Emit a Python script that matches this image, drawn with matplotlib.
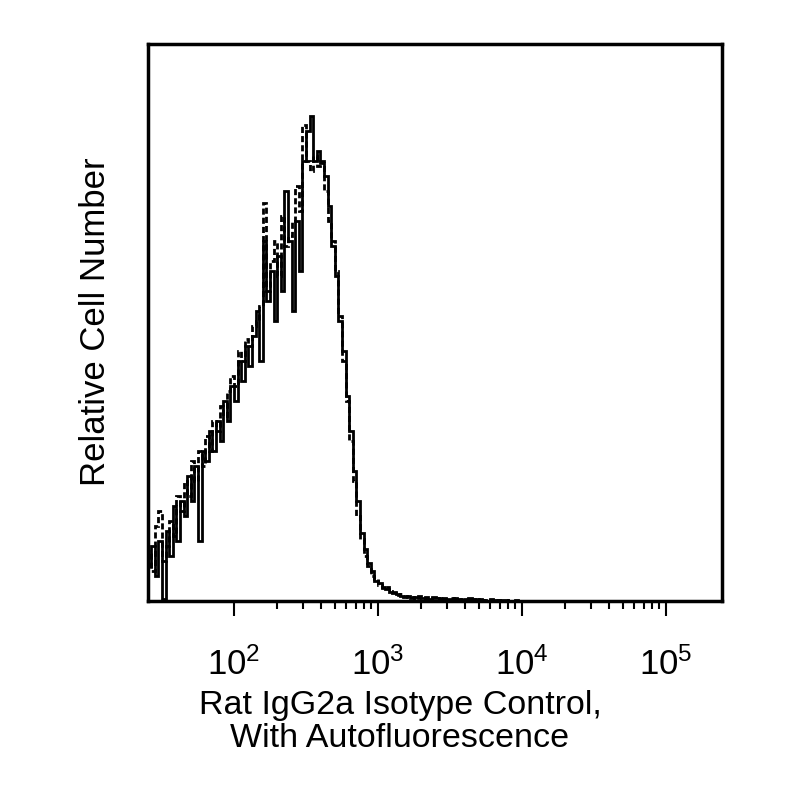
import numpy as np
import matplotlib
matplotlib.use("Agg")
import matplotlib.pyplot as plt
from matplotlib.ticker import FixedLocator, NullFormatter

plt.rcParams['font.family'] = ['Liberation Sans', 'DejaVu Sans']
plt.rcParams['mathtext.fontset'] = 'custom'
plt.rcParams['mathtext.rm'] = 'Liberation Sans'

# log10 bin edges of the histogram
log_start = 1.40
log_step = 0.025

solid_counts = [35, 55, 25, 60, 2, 70, 45, 95, 60, 100,
                85, 125, 100, 135, 60, 150, 140, 170, 150, 180,
                160, 200, 180, 215, 200, 240, 220, 255, 235, 265,
                290, 240, 360, 300, 330, 280, 345, 310, 410, 360,
                290, 380, 330, 440, 470, 485, 440, 450, 438, 425,
                395, 355, 325, 280, 250, 205, 170, 130, 100, 68,
                52, 38, 30, 20, 18, 14, 12, 9, 8, 7,
                5, 4, 5, 3, 4, 3, 3, 4, 2, 3,
                3, 2, 3, 2, 2, 3, 2, 1, 2, 3,
                2, 1, 2, 1, 0, 2, 1, 0, 1, 1,
                0, 0, 1, 0]

dashed_counts = [50, 30, 75, 90, 40, 55, 80, 65, 105, 90,
                 120, 105, 140, 120, 150, 135, 165, 150, 180, 170,
                 195, 185, 210, 225, 215, 250, 240, 262, 255, 275,
                 280, 295, 398, 310, 340, 360, 325, 385, 355, 365,
                 380, 415, 390, 476, 440, 430, 445, 435, 440, 410,
                 380, 360, 330, 285, 240, 200, 160, 120, 85, 62,
                 45, 35, 25, 22, 16, 13, 14, 10, 9, 6,
                 7, 5, 4, 4, 3, 5, 3, 2, 3, 4,
                 2, 3, 2, 1, 3, 2, 2, 1, 2, 1,
                 1, 2, 0, 1, 1, 0, 1, 1, 0, 0,
                 1, 0, 0, 0]

major_ticks = [1e2, 1e3, 1e4, 1e5]
major_labels = [r'$\mathregular{10^{2}}$', r'$\mathregular{10^{3}}$',
                r'$\mathregular{10^{4}}$', r'$\mathregular{10^{5}}$']
x_range = (10 ** 1.403, 10 ** 5.389)
y_max = 557

edges = 10 ** (log_start + log_step * np.arange(len(solid_counts) + 1))

fig = plt.figure(figsize=(8, 8), dpi=100)
ax = fig.add_axes([0.185, 0.24875, 0.7175, 0.69625])

ax.stairs(dashed_counts, edges, color='black', lw=2.0, linestyle=(0, (2.2, 1.1)))
ax.stairs(solid_counts, edges, color='black', lw=2.0)

ax.set_xscale('log')
ax.set_xlim(*x_range)
ax.set_ylim(0, y_max)

ax.xaxis.set_major_locator(FixedLocator(major_ticks))
ax.set_xticklabels(major_labels)
minor = [m * 10 ** d for d in (2, 3, 4) for m in range(2, 10)]
ax.xaxis.set_minor_locator(FixedLocator(minor))
ax.xaxis.set_minor_formatter(NullFormatter())
ax.tick_params(axis='x', which='major', direction='out', length=11, width=1.5,
               labelsize=25, pad=22)
ax.tick_params(axis='x', which='minor', direction='out', length=6, width=1.5)
ax.set_yticks([])

for s in ax.spines.values():
    s.set_linewidth(2.5)

fig.text(0.12, 0.598, 'Relative Cell Number', rotation=90, ha='center', va='center',
         fontsize=25)
fig.text(0.5, 0.097, 'Rat IgG2a Isotype Control,\nWith Autofluorescence',
         ha='center', va='center', fontsize=24.5, linespacing=1.08)

fig.savefig('out.png', dpi=100)
